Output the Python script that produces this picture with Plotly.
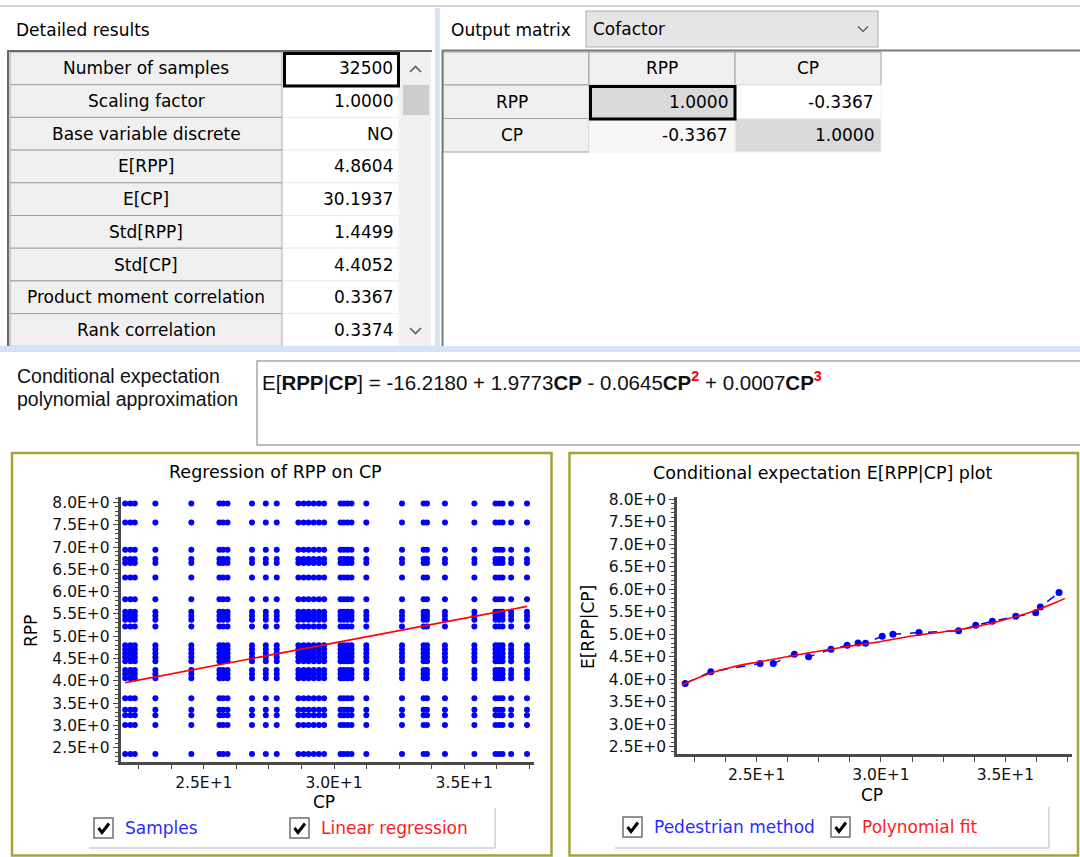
import plotly.graph_objects as go

W, H = 1080, 857
UI = "DejaVu Sans"
NARROW = "Liberation Sans"

# ---------------- data ----------------
detail_labels = ["Number of samples", "Scaling factor", "Base variable discrete",
                 "E[RPP]", "E[CP]", "Std[RPP]", "Std[CP]",
                 "Product moment correlation", "Rank correlation"]
detail_values = ["32500", "1.0000", "NO", "4.8604", "30.1937", "1.4499",
                 "4.4052", "0.3367", "0.3374"]
matrix_type = "Cofactor"
matrix_vars = ["RPP", "CP"]
cofactor_values = [[1.0000, -0.3367], [-0.3367, 1.0000]]
poly_coef = [-16.2180, 1.9773, -0.0645, 0.0007]

# sample grid (discrete CP values x discrete RPP values)
cp_levels = [21.98, 22.18, 22.35, 23.14, 24.52, 25.60, 25.74, 25.91, 26.85,
             27.38, 27.80, 28.63, 28.83, 29.02, 29.22, 29.42, 29.62, 30.25,
             30.38, 30.52, 30.67, 31.24, 32.61, 33.44, 33.57, 34.26, 35.39,
             36.20, 36.34, 36.47, 36.80, 37.41]
rpp_levels = [2.36, 3.01, 3.23, 3.35, 3.61, 4.06, 4.15, 4.24, 4.44, 4.53,
              4.62, 4.71, 4.80, 5.22, 5.37, 5.46, 5.55, 5.83, 6.32, 6.64,
              6.73, 6.94, 7.55, 7.98]

reg_cp = [21.98, 37.41]
reg_rpp = [3.96, 5.67]

ped_cp = [22.13, 23.16, 25.14, 25.67, 26.52, 27.09, 27.99, 28.64, 29.08, 29.38,
          30.05, 30.48, 31.53, 33.12, 33.81, 34.48, 35.42, 36.22, 36.41, 37.16]
ped_rpp = [3.91, 4.17, 4.35, 4.35, 4.56, 4.50, 4.67, 4.76, 4.81, 4.80,
           4.96, 5.00, 5.04, 5.08, 5.20, 5.29, 5.40, 5.48, 5.61, 5.93]

fit_cp = [22.0, 23, 24, 25, 26, 27, 28, 29, 30, 31, 32, 33, 34, 35, 36, 37, 37.39]
fit_rpp = [3.88, 4.11, 4.27, 4.38, 4.48, 4.58, 4.67, 4.76, 4.84, 4.94, 5.02,
           5.09, 5.19, 5.33, 5.49, 5.70, 5.80]

rpp_tickvals = [2.5, 3.0, 3.5, 4.0, 4.5, 5.0, 5.5, 6.0, 6.5, 7.0, 7.5, 8.0]
rpp_ticktext = ["2.5E+0", "3.0E+0", "3.5E+0", "4.0E+0", "4.5E+0", "5.0E+0",
                "5.5E+0", "6.0E+0", "6.5E+0", "7.0E+0", "7.5E+0", "8.0E+0"]
cp_tickvals = [25, 30, 35]
cp_ticktext = ["2.5E+1", "3.0E+1", "3.5E+1"]

# ---------------- helpers ----------------
shapes = []
annots = []


def px(x):
    return x / W


def py(y):
    return 1 - y / H


def rect(x0, y0, x1, y1, fill=None, line=None, lw=1):
    shapes.append(dict(type="rect", xref="paper", yref="paper",
                       x0=px(x0), x1=px(x1), y0=py(y1), y1=py(y0),
                       fillcolor=fill or "rgba(0,0,0,0)",
                       line=dict(color=line or "rgba(0,0,0,0)", width=lw if line else 0),
                       layer="below"))


def seg(x0, y0, x1, y1, color, lw=1, layer="below"):
    shapes.append(dict(type="line", xref="paper", yref="paper",
                       x0=px(x0), x1=px(x1), y0=py(y0), y1=py(y1),
                       line=dict(color=color, width=lw), layer=layer))


def poly(pts, color, lw=1.5, layer="above"):
    d = "M " + " L ".join(f"{px(x):.5f},{py(y):.5f}" for x, y in pts)
    shapes.append(dict(type="path", xref="paper", yref="paper", path=d,
                       line=dict(color=color, width=lw), layer=layer))


def text(x, y, s, size=17, color="#000000", anchor="left", family=UI, angle=0):
    annots.append(dict(x=px(x), y=py(y), xref="paper", yref="paper", text=s,
                       showarrow=False, xanchor=anchor, yanchor="middle",
                       textangle=angle, borderpad=0,
                       font=dict(family=family, size=size, color=color)))


# ---------------- top strip ----------------
seg(0, 6, W, 6, "#a8a8a8", 1)
text(15, 30, "Detailed results")

# left table
ROW0, RH = 52, 32.7
rect(8, 51, 432, 349, fill="#ffffff")
for i, (lab, val) in enumerate(zip(detail_labels, detail_values)):
    y0 = ROW0 + i * RH
    rect(10, y0, 282, y0 + RH, fill="#f0f0f0", line="#a0a0a0", lw=1)
    rect(283, y0, 399, y0 + RH, fill="#ffffff", line="#ececec", lw=1)
    text(146, y0 + RH / 2, lab, anchor="center")
    text(394, y0 + RH / 2, val, anchor="right")
rect(284.5, 53.5, 398.5, 86, line="#000000", lw=3)
# scrollbar
rect(400, 52, 431, 349, fill="#f0f0f0")
rect(403, 85, 429, 115, fill="#cdcdcd")
poly([(410, 72), (415.5, 66.5), (421, 72)], "#606060", 1.6)
poly([(410, 328), (415.5, 333.5), (421, 328)], "#606060", 1.6)
# frame
seg(7, 51, 432, 51, "#6a6a6a", 2)
seg(8, 50, 8, 349, "#6a6a6a", 2)

# vertical splitter
rect(435, 8, 440, 346, fill="#d4e4f4")

# right panel: output matrix
text(450, 30, "Output matrix")
rect(586, 11, 878, 47, fill="#e5e5e5", line="#adadad", lw=1)
text(592, 29, matrix_type)
poly([(858, 26.5), (863, 31.5), (868, 26.5)], "#505050", 1.2)

MX = [443, 589, 735, 881]
MY = [52, 85, 118.5, 152]
rect(MX[0], MY[0], MX[1], MY[1], fill="#f0f0f0", line="#a0a0a0")
for j, v in enumerate(matrix_vars):
    rect(MX[j + 1], MY[0], MX[j + 2], MY[1], fill="#f0f0f0", line="#a0a0a0")
    text((MX[j + 1] + MX[j + 2]) / 2, (MY[0] + MY[1]) / 2, v, anchor="center")
for i, v in enumerate(matrix_vars):
    rect(MX[0], MY[i + 1], MX[1], MY[i + 2], fill="#f0f0f0", line="#a0a0a0")
    text((MX[0] + MX[1]) / 2 - 4, (MY[i + 1] + MY[i + 2]) / 2, v, anchor="center")
    for j in range(len(matrix_vars)):
        fill = "#dadada" if i == j else ("#ffffff" if j > i else "#f7f7f7")
        rect(MX[j + 1], MY[i + 1], MX[j + 2], MY[i + 2], fill=fill, line="#f0f0f0")
        text(MX[j + 2] - 6, (MY[i + 1] + MY[i + 2]) / 2,
             f"{cofactor_values[i][j]:.4f}", anchor="right")
rect(590.5, 86.5, 735, 119, line="#000000", lw=3)
seg(442, 50.5, W, 50.5, "#7a7a7a", 2)
seg(442.5, 50, 442.5, 346, "#7a7a7a", 2)

# horizontal splitter
rect(0, 346, W, 352, fill="#d4e4f4")

# ---------------- polynomial approximation ----------------
text(16, 376, "Conditional expectation", size=19.5, family=NARROW, color="#111111")
text(16, 399.5, "polynomial approximation", size=19.5, family=NARROW, color="#111111")
rect(257, 361, W + 5, 445, fill="#ffffff", line="#a8a8a8", lw=1.5)

eq = "E[<b>RPP</b>|<b>CP</b>] = " + f"{poly_coef[0]:.4f}"
for k, c in enumerate(poly_coef[1:], start=1):
    eq += (" + " if c >= 0 else " - ") + f"{abs(c):.4f}" + "<b>CP</b>"
    if k > 1:
        eq += f"<sup><b><span style='color:#ff0000'>{k}</span></b></sup>"
text(261, 381, eq, size=20.5, family=NARROW, color="#111111")

# ---------------- chart panels ----------------
OLIVE = "#a4a43a"
rect(12, 453, 551.5, 855.5, fill="#ffffff", line=OLIVE, lw=2.5)
rect(569.5, 453, 1078, 855.5, fill="#ffffff", line=OLIVE, lw=2.5)

text(275, 472, "Regression of RPP on CP", size=17.5, anchor="center")
text(823, 473, "Conditional expectation E[RPP|CP] plot", size=17.5, anchor="center")
text(324, 801.5, "CP", anchor="center")
text(872, 794.5, "CP", anchor="center")
text(31, 631, "RPP", anchor="center", angle=-90)
text(588, 627, "E[RPP|CP]", anchor="center", angle=-90)


def groupbox(x0, y0, x1, y1):
    seg(x1, y0, x1, y1, "#cfcfcf", 1.5)
    seg(x0, y1, x1, y1, "#cfcfcf", 1.5)


def checkbox(x0, y0, label, color):
    rect(x0, y0, x0 + 19, y0 + 20, fill="#ffffff", line="#6f6f6f", lw=1.5)
    poly([(x0 + 4.5, y0 + 10), (x0 + 8, y0 + 14.5), (x0 + 15, y0 + 5.5)], "#000000", 3)
    text(x0 + 30, y0 + 10, label, color=color)


groupbox(89, 808, 495, 848)
groupbox(615, 807, 1049, 848)
checkbox(94, 818, "Samples", "#2a2aff")
checkbox(290, 818, "Linear regression", "#ff1a1a")
checkbox(623, 817, "Pedestrian method", "#2a2aff")
checkbox(831, 817, "Polynomial fit", "#ff1a1a")

# ---------------- traces ----------------
sx = [c for c in cp_levels for _ in rpp_levels]
sy = [r for _ in cp_levels for r in rpp_levels]

fig = go.Figure()
fig.add_trace(go.Scatter(x=sx, y=sy, mode="markers", xaxis="x", yaxis="y",
                         marker=dict(color="#0000ff", size=6, symbol="circle",
                                     line=dict(width=0)),
                         showlegend=False, hoverinfo="skip"))
fig.add_trace(go.Scatter(x=reg_cp, y=reg_rpp, mode="lines", xaxis="x", yaxis="y",
                         line=dict(color="#ff0000", width=1.6),
                         showlegend=False, hoverinfo="skip"))
fig.add_trace(go.Scatter(x=ped_cp, y=ped_rpp, mode="lines+markers", xaxis="x2", yaxis="y2",
                         line=dict(color="#0000ff", width=1.5, dash="dash"),
                         marker=dict(color="#0000ff", size=7, symbol="circle"),
                         showlegend=False, hoverinfo="skip"))
fig.add_trace(go.Scatter(x=fit_cp, y=fit_rpp, mode="lines", xaxis="x2", yaxis="y2",
                         line=dict(color="#ff0000", width=1.6, shape="spline"),
                         showlegend=False, hoverinfo="skip"))

AX = "#4a4a4a"
TF = dict(family=UI, size=15.5, color="#111111")


def xax(dom, anchor):
    return dict(domain=dom, anchor=anchor, range=[21.8, 37.66], automargin=False,
                tickmode="array", tickvals=cp_tickvals, ticktext=cp_ticktext,
                ticks="outside", ticklen=5, tickwidth=1, tickcolor=AX,
                minor=dict(tickmode="linear", tick0=0, dtick=1.25, ticks="outside",
                           ticklen=5, tickwidth=1, tickcolor=AX, showgrid=False),
                showline=True, linecolor=AX, linewidth=2.5,
                showgrid=False, zeroline=False, tickfont=TF, fixedrange=True)


def yax(dom, anchor, rng):
    return dict(domain=dom, anchor=anchor, range=rng, automargin=False,
                tickmode="array", tickvals=rpp_tickvals, ticktext=rpp_ticktext,
                ticks="outside", ticklen=5, tickwidth=1, tickcolor=AX,
                minor=dict(tickmode="linear", tick0=0, dtick=0.1, ticks="outside",
                           ticklen=3, tickwidth=1, tickcolor=AX, showgrid=False),
                showline=True, linecolor=AX, linewidth=2.5,
                showgrid=False, zeroline=False, tickfont=TF, fixedrange=True)


fig.update_layout(
    width=W, height=H,
    margin=dict(l=0, r=0, t=0, b=0, pad=0, autoexpand=False),
    paper_bgcolor="#ffffff", plot_bgcolor="rgba(0,0,0,0)",
    showlegend=False,
    xaxis=xax([px(120.5), px(533.5)], "y"),
    yaxis=yax([py(761.5), py(496.7)], "x", [2.19, 8.13]),
    xaxis2=xax([px(677), px(1071.5)], "y2"),
    yaxis2=yax([py(754), py(496.7)], "x2", [2.34, 8.06]),
    shapes=shapes, annotations=annots,
)

fig.write_html("out.html", config=dict(displayModeBar=False))
